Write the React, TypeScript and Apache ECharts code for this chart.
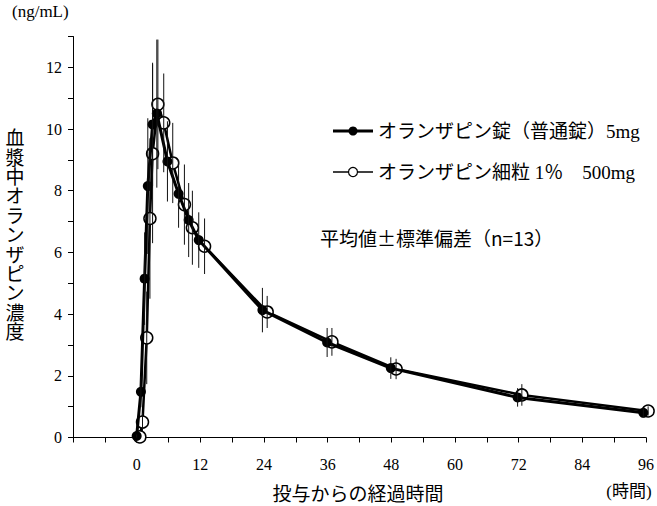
import React, { useEffect, useRef } from "react";
import * as echarts from "echarts";

// Time (h) as placed in the picture, mean and SD (ng/mL)
const tabletTime = [0.0, 0.8, 1.5, 2.1, 3.0, 3.8, 5.8, 7.9, 9.8, 11.7, 23.7, 35.9, 47.9, 71.8, 95.5];
const tabletMean = [0.05, 1.48, 5.15, 8.15, 10.15, 10.5, 8.95, 7.9, 7.05, 6.4, 4.13, 3.08, 2.25, 1.3, 0.8];
const tabletSD = [0.05, 0.5, 1.5, 2.2, 2.0, 2.4, 1.3, 1.1, 1.2, 0.9, 0.72, 0.47, 0.35, 0.3, 0.15];

const granuleTime = [0.6, 1.1, 1.9, 2.5, 3.0, 4.0, 5.1, 6.8, 9.0, 10.5, 12.8, 24.6, 36.8, 48.9, 72.6, 96.4];
const granuleMean = [0.02, 0.5, 3.23, 7.1, 9.2, 10.8, 10.2, 8.9, 7.55, 6.8, 6.2, 4.07, 3.1, 2.22, 1.38, 0.86];
const granuleSD = [0.0, 0.3, 1.5, 2.6, 2.9, 2.1, 1.6, 1.3, 1.3, 1.2, 0.9, 0.52, 0.45, 0.33, 0.35, 0.15];

const legendNames = ["オランザピン錠（普通錠）5mg", "オランザピン細粒 1％　500mg"];
const noteText = "平均値±標準偏差（n=13）";
const yTitle = "血漿中オランザピン濃度";
const xTitle = "投与からの経過時間";
const yUnit = "(ng/mL)";
const xUnit = "(時間)";

const FONT = "'Liberation Serif', 'Noto Sans CJK JP', serif";
const CJKFONT = "'Noto Sans CJK JP', 'Liberation Serif', serif";

function errorSeries(time: number[], mean: number[], sd: number[]) {
  const data = time.map((t, i) => [t, mean[i] - sd[i], mean[i] + sd[i]]);
  return {
    type: "custom",
    z: 4,
    silent: true,
    clip: false,
    data,
    encode: { x: 0, y: [1, 2] },
    renderItem: (params: any, api: any) => {
      const x = api.value(0);
      const lo = api.coord([x, api.value(1)]);
      const hi = api.coord([x, api.value(2)]);
      return {
        type: "line",
        shape: { x1: lo[0], y1: lo[1], x2: hi[0], y2: hi[1] },
        style: { stroke: "#111", lineWidth: 1 },
      };
    },
  };
}

export default function App() {
  const ref = useRef<HTMLDivElement>(null);
  useEffect(() => {
    if (!ref.current) return;
    const chart = echarts.init(ref.current, null, { renderer: "svg" });
    chart.setOption({
      animation: false,
      backgroundColor: "#fff",
      textStyle: { fontFamily: FONT },
      grid: { left: 73, right: 9.5, top: 36.5, bottom: 68.5 },
      xAxis: {
        type: "value",
        min: -12,
        max: 96,
        interval: 6,
        splitLine: { show: false },
        axisLine: { lineStyle: { color: "#000", width: 1 } },
        axisTick: { length: 5, lineStyle: { color: "#000" } },
        axisLabel: {
          color: "#000",
          fontSize: 16,
          fontFamily: FONT,
          margin: 19,
          formatter: (v: number) => (v >= 0 && v % 12 === 0 ? String(v) : ""),
        },
      },
      yAxis: {
        type: "value",
        min: 0,
        max: 13,
        interval: 1,
        splitLine: { show: false },
        axisLine: { show: true, onZero: false, lineStyle: { color: "#000", width: 1 } },
        axisTick: { show: true, length: 5, lineStyle: { color: "#000" } },
        axisLabel: {
          color: "#000",
          fontSize: 16,
          fontFamily: FONT,
          margin: 11,
          formatter: (v: number) => (v % 2 === 0 && v <= 12 ? String(v) : ""),
        },
      },
      series: [
        errorSeries(tabletTime, tabletMean, tabletSD),
        errorSeries(granuleTime, granuleMean, granuleSD),
        {
          type: "line",
          name: legendNames[1],
          z: 2,
          clip: false,
          data: granuleTime.map((t, i) => [t, granuleMean[i]]),
          symbol: "circle",
          symbolSize: 12,
          itemStyle: { color: "#fff", borderColor: "#000", borderWidth: 1.5 },
          lineStyle: { color: "#000", width: 2.5 },
        },
        {
          type: "line",
          name: legendNames[0],
          z: 3,
          clip: false,
          data: tabletTime.map((t, i) => [t, tabletMean[i]]),
          symbol: "circle",
          symbolSize: 10,
          itemStyle: { color: "#000" },
          lineStyle: { color: "#000", width: 3 },
        },
      ],
      graphic: [
        {
          type: "text",
          x: 12,
          y: 11,
          style: { text: yUnit, font: `17px ${FONT}`, fill: "#000", verticalAlign: "middle" },
        },
        {
          type: "text",
          x: 15,
          y: 129,
          style: {
            text: yTitle.split("").join("\n"),
            font: `19px ${FONT}`,
            lineHeight: 19.4,
            fill: "#000",
            align: "center",
            verticalAlign: "top",
          },
        },
        {
          type: "text",
          x: 358,
          y: 494,
          style: {
            text: xTitle,
            font: `19px ${FONT}`,
            fill: "#000",
            align: "center",
            verticalAlign: "middle",
          },
        },
        {
          type: "text",
          x: 629,
          y: 491,
          style: {
            text: xUnit,
            font: `17px ${FONT}`,
            fill: "#000",
            align: "center",
            verticalAlign: "middle",
          },
        },
        // legend
        {
          type: "line",
          shape: { x1: 333, y1: 131, x2: 373, y2: 131 },
          style: { stroke: "#000", lineWidth: 3 },
        },
        {
          type: "circle",
          shape: { cx: 353, cy: 131, r: 4.5 },
          style: { fill: "#000" },
        },
        {
          type: "text",
          x: 378,
          y: 131,
          style: {
            text: legendNames[0],
            font: `19px ${FONT}`,
            fill: "#000",
            verticalAlign: "middle",
          },
        },
        {
          type: "line",
          shape: { x1: 333, y1: 172, x2: 373, y2: 172 },
          style: { stroke: "#000", lineWidth: 1.5 },
        },
        {
          type: "circle",
          shape: { cx: 353, cy: 172, r: 4.5 },
          style: { fill: "#fff", stroke: "#000", lineWidth: 1.2 },
        },
        {
          type: "text",
          x: 378,
          y: 172,
          style: {
            text: legendNames[1],
            font: `19px ${FONT}`,
            fill: "#000",
            verticalAlign: "middle",
          },
        },
        {
          type: "text",
          x: 320,
          y: 237,
          style: {
            text: noteText,
            font: `19px ${CJKFONT}`,
            fill: "#000",
            verticalAlign: "middle",
          },
        },
      ],
    });
    return () => chart.dispose();
  }, []);
  return (
    <div
      ref={ref}
      style={{ position: "fixed", left: 0, top: 0, width: 657, height: 506 }}
    />
  );
}
